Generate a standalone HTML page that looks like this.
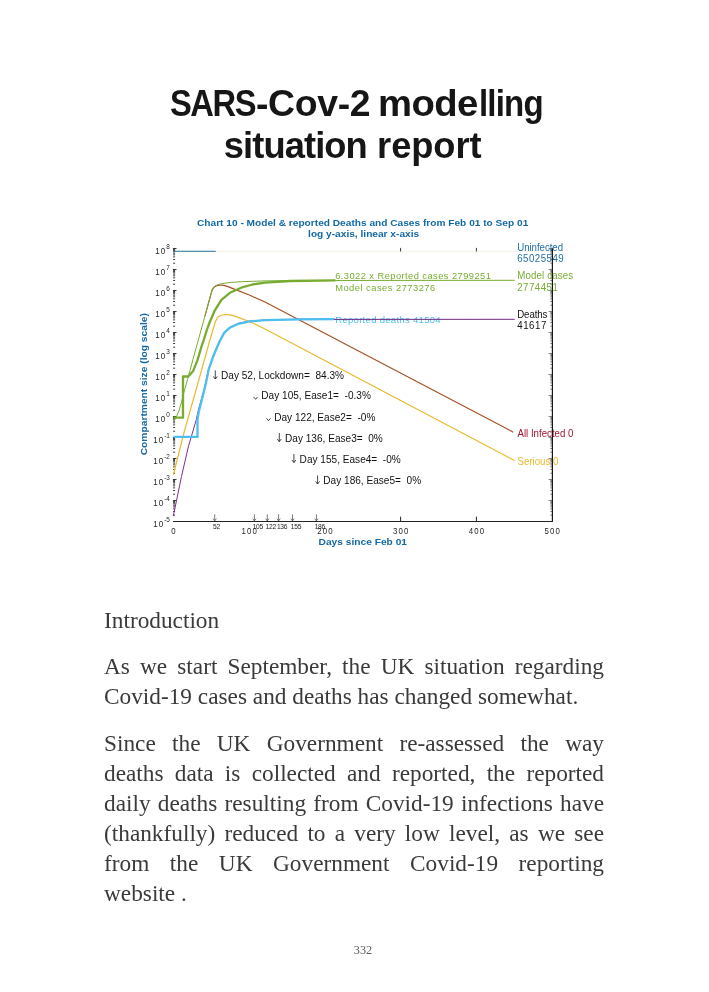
<!DOCTYPE html>
<html lang="en">
<head>
<meta charset="utf-8">
<title>SARS-Cov-2 modelling situation report</title>
<style>
  html, body { margin: 0; padding: 0; background: #ffffff; }
  body { width: 709px; height: 992px; position: relative; overflow: hidden; }
  .page { position: absolute; left: 0; top: 0; width: 709px; height: 992px; background: #fff; overflow: hidden; }
  .ln, .pn, h1.title { will-change: transform; }

  /* ---------- Title ---------- */
  h1.title { margin: 0; padding: 0; font-size: 36.3px; position: absolute; left: 0; top: 0; width: 709px; height: 200px; }
  .tw { position: absolute; white-space: nowrap; margin: 0; display: block; transform-origin: 0 50%;
        font-family: "Liberation Sans", sans-serif; font-weight: bold;
        font-size: 36.3px; line-height: 40px; color: #161616; }

  /* ---------- Body text ---------- */
  .ln { position: absolute; left: 104.2px; width: 500px; margin: 0;
        font-family: "Liberation Serif", serif; font-size: 23.3px; line-height: 30px;
        color: #3a3a3a; white-space: nowrap; }
  .ln.j { white-space: normal; text-align: justify; text-align-last: justify; }
  .pn { position: absolute; left: 333px; width: 60px; text-align: center; top: 942.7px;
        font-family: "Liberation Serif", serif; font-size: 12.2px; line-height: 14px; color: #5a5a5a; }

  /* ---------- Chart ---------- */
  svg.chart { position: absolute; left: 0; top: 0; }
  svg.chart text { font-family: "Liberation Sans", sans-serif; }
</style>
</head>
<body>
<div class="page">

  <!-- Title (chunks placed individually to match the original font's widths) -->
  <h1 class="title">
    <span class="tw" id="t1" style="left:169.6px; top:84.3px; letter-spacing:-1.6px; transform:scaleX(0.90);">SARS</span><span class="tw" id="t1b" style="left:256.2px; top:84.3px; letter-spacing:-0.35px; transform:scaleX(1.03);">-Cov-2</span>
    <span class="tw" id="t2" style="left:378.1px; top:84.3px; letter-spacing:-0.6px; transform:scaleX(1.055);">mode</span><span class="tw" id="t2b" style="left:478.6px; top:84.3px; letter-spacing:-0.9px; transform:scaleX(0.91);">lling</span>
    <span class="tw" id="t3" style="left:223.8px; top:125.7px; letter-spacing:-0.91px;">situation</span>
    <span class="tw" id="t4" style="left:377.1px; top:125.7px; letter-spacing:-0.07px;">report</span>
  </h1>

  <!-- CHART-BEGIN -->
<svg class="chart" width="709" height="992" viewBox="0 0 709 992">
<line x1="215.8" y1="251.3" x2="552.2" y2="251.3" stroke="#f4f2e8" stroke-width="1"/>
<line x1="173.0" y1="521.5" x2="552.8" y2="521.5" stroke="#222222" stroke-width="1.2"/>
<line x1="400.6" y1="521.5" x2="400.6" y2="516.7" stroke="#222222" stroke-width="1"/>
<line x1="400.6" y1="247.9" x2="400.6" y2="251.5" stroke="#222222" stroke-width="0.9"/>
<line x1="476.4" y1="521.5" x2="476.4" y2="516.7" stroke="#222222" stroke-width="1"/>
<line x1="476.4" y1="247.9" x2="476.4" y2="251.5" stroke="#222222" stroke-width="0.9"/>
<path d="M172.9 248.50h3.6M173.1 263.18h2.0M173.1 259.48h2.0M173.1 256.86h2.0M173.1 254.82h2.0M173.1 253.16h2.0M173.1 251.75h2.0M173.1 250.54h2.0M173.1 249.46h2.0M172.9 269.50h3.6M173.1 284.18h2.0M173.1 280.48h2.0M173.1 277.86h2.0M173.1 275.82h2.0M173.1 274.16h2.0M173.1 272.75h2.0M173.1 271.54h2.0M173.1 270.46h2.0M172.9 290.50h3.6M173.1 305.18h2.0M173.1 301.48h2.0M173.1 298.86h2.0M173.1 296.82h2.0M173.1 295.16h2.0M173.1 293.75h2.0M173.1 292.54h2.0M173.1 291.46h2.0M172.9 311.50h3.6M173.1 326.18h2.0M173.1 322.48h2.0M173.1 319.86h2.0M173.1 317.82h2.0M173.1 316.16h2.0M173.1 314.75h2.0M173.1 313.54h2.0M173.1 312.46h2.0M172.9 332.50h3.6M173.1 347.18h2.0M173.1 343.48h2.0M173.1 340.86h2.0M173.1 338.82h2.0M173.1 337.16h2.0M173.1 335.75h2.0M173.1 334.54h2.0M173.1 333.46h2.0M172.9 353.50h3.6M173.1 368.18h2.0M173.1 364.48h2.0M173.1 361.86h2.0M173.1 359.82h2.0M173.1 358.16h2.0M173.1 356.75h2.0M173.1 355.54h2.0M173.1 354.46h2.0M172.9 374.50h3.6M173.1 389.18h2.0M173.1 385.48h2.0M173.1 382.86h2.0M173.1 380.82h2.0M173.1 379.16h2.0M173.1 377.75h2.0M173.1 376.54h2.0M173.1 375.46h2.0M172.9 395.50h3.6M173.1 410.18h2.0M173.1 406.48h2.0M173.1 403.86h2.0M173.1 401.82h2.0M173.1 400.16h2.0M173.1 398.75h2.0M173.1 397.54h2.0M173.1 396.46h2.0M172.9 416.50h3.6M173.1 431.18h2.0M173.1 427.48h2.0M173.1 424.86h2.0M173.1 422.82h2.0M173.1 421.16h2.0M173.1 419.75h2.0M173.1 418.54h2.0M173.1 417.46h2.0M172.9 437.50h3.6M173.1 452.18h2.0M173.1 448.48h2.0M173.1 445.86h2.0M173.1 443.82h2.0M173.1 442.16h2.0M173.1 440.75h2.0M173.1 439.54h2.0M173.1 438.46h2.0M172.9 458.50h3.6M173.1 473.18h2.0M173.1 469.48h2.0M173.1 466.86h2.0M173.1 464.82h2.0M173.1 463.16h2.0M173.1 461.75h2.0M173.1 460.54h2.0M173.1 459.46h2.0M172.9 479.50h3.6M173.1 494.18h2.0M173.1 490.48h2.0M173.1 487.86h2.0M173.1 485.82h2.0M173.1 484.16h2.0M173.1 482.75h2.0M173.1 481.54h2.0M173.1 480.46h2.0M172.9 500.50h3.6M173.1 515.18h2.0M173.1 511.48h2.0M173.1 508.86h2.0M173.1 506.82h2.0M173.1 505.16h2.0M173.1 503.75h2.0M173.1 502.54h2.0M173.1 501.46h2.0M172.9 521.50h3.6" stroke="#222222" stroke-width="0.9" fill="none"/>
<path d="M552.2 248.50h-3.6M552.2 263.18h-1.9M552.2 259.48h-1.9M552.2 256.86h-1.9M552.2 254.82h-1.9M552.2 253.16h-1.9M552.2 251.75h-1.9M552.2 250.54h-1.9M552.2 249.46h-1.9M552.2 269.50h-3.6M552.2 284.18h-1.9M552.2 280.48h-1.9M552.2 277.86h-1.9M552.2 275.82h-1.9M552.2 274.16h-1.9M552.2 272.75h-1.9M552.2 271.54h-1.9M552.2 270.46h-1.9M552.2 290.50h-3.6M552.2 305.18h-1.9M552.2 301.48h-1.9M552.2 298.86h-1.9M552.2 296.82h-1.9M552.2 295.16h-1.9M552.2 293.75h-1.9M552.2 292.54h-1.9M552.2 291.46h-1.9M552.2 311.50h-3.6M552.2 326.18h-1.9M552.2 322.48h-1.9M552.2 319.86h-1.9M552.2 317.82h-1.9M552.2 316.16h-1.9M552.2 314.75h-1.9M552.2 313.54h-1.9M552.2 312.46h-1.9M552.2 332.50h-3.6M552.2 347.18h-1.9M552.2 343.48h-1.9M552.2 340.86h-1.9M552.2 338.82h-1.9M552.2 337.16h-1.9M552.2 335.75h-1.9M552.2 334.54h-1.9M552.2 333.46h-1.9M552.2 353.50h-3.6M552.2 368.18h-1.9M552.2 364.48h-1.9M552.2 361.86h-1.9M552.2 359.82h-1.9M552.2 358.16h-1.9M552.2 356.75h-1.9M552.2 355.54h-1.9M552.2 354.46h-1.9M552.2 374.50h-3.6M552.2 389.18h-1.9M552.2 385.48h-1.9M552.2 382.86h-1.9M552.2 380.82h-1.9M552.2 379.16h-1.9M552.2 377.75h-1.9M552.2 376.54h-1.9M552.2 375.46h-1.9M552.2 395.50h-3.6M552.2 410.18h-1.9M552.2 406.48h-1.9M552.2 403.86h-1.9M552.2 401.82h-1.9M552.2 400.16h-1.9M552.2 398.75h-1.9M552.2 397.54h-1.9M552.2 396.46h-1.9M552.2 416.50h-3.6M552.2 431.18h-1.9M552.2 427.48h-1.9M552.2 424.86h-1.9M552.2 422.82h-1.9M552.2 421.16h-1.9M552.2 419.75h-1.9M552.2 418.54h-1.9M552.2 417.46h-1.9M552.2 437.50h-3.6M552.2 452.18h-1.9M552.2 448.48h-1.9M552.2 445.86h-1.9M552.2 443.82h-1.9M552.2 442.16h-1.9M552.2 440.75h-1.9M552.2 439.54h-1.9M552.2 438.46h-1.9M552.2 458.50h-3.6M552.2 473.18h-1.9M552.2 469.48h-1.9M552.2 466.86h-1.9M552.2 464.82h-1.9M552.2 463.16h-1.9M552.2 461.75h-1.9M552.2 460.54h-1.9M552.2 459.46h-1.9M552.2 479.50h-3.6M552.2 494.18h-1.9M552.2 490.48h-1.9M552.2 487.86h-1.9M552.2 485.82h-1.9M552.2 484.16h-1.9M552.2 482.75h-1.9M552.2 481.54h-1.9M552.2 480.46h-1.9M552.2 500.50h-3.6M552.2 515.18h-1.9M552.2 511.48h-1.9M552.2 508.86h-1.9M552.2 506.82h-1.9M552.2 505.16h-1.9M552.2 503.75h-1.9M552.2 502.54h-1.9M552.2 501.46h-1.9M552.2 521.50h-3.6" stroke="#222222" stroke-width="0.7" fill="none" opacity="0.8"/>
<polyline points="174.0,251.3 215.8,251.3" fill="none" stroke="#2A6A95" stroke-width="1.1" stroke-linejoin="round" />
<polyline points="173.3,516.0 176.0,503.0 181.5,476.4 188.3,447.0 196.2,420.0 198.6,409.0 203.8,391.2 208.4,369.8 213.7,354.6 219.2,341.6 224.2,332.4 229.9,327.2 238.3,323.4 249.6,321.1 265.0,320.0 300.0,319.2 334.5,319.1" fill="none" stroke="#7E2F8E" stroke-width="1.0" stroke-linejoin="round" />
<polyline points="173.3,475.0 184.7,430.0 197.4,385.0 209.9,340.0 213.2,329.0 215.4,321.5 217.4,317.9 219.5,316.0 222.0,315.0 226.0,314.5 229.9,314.9 234.0,315.9 238.3,317.4 250.0,321.8 265.0,328.9 440.0,421.2 514.5,460.6" fill="none" stroke="#E9B82A" stroke-width="1.15" stroke-linejoin="round" />
<polyline points="205.0,315.8 210.0,297.6 212.0,290.4 213.6,287.6 216.0,286.0 220.0,285.0 224.0,285.4 228.0,286.6 235.5,289.6 250.0,295.3 265.0,302.1 513.3,432.2" fill="none" stroke="#A54F23" stroke-width="1.15" stroke-linejoin="round" />
<polyline points="174.2,420.3 176.5,416.5 179.1,410.4 181.5,402.0 184.0,392.0 187.6,379.4 193.2,358.6 198.9,338.0 205.0,315.8 210.0,297.6 212.0,290.4 213.4,287.4 215.5,285.7 218.0,284.6 221.4,283.7 230.0,282.5 241.2,281.7 265.0,280.9 300.0,280.5 514.7,280.3" fill="none" stroke="#77AC30" stroke-width="1.0" stroke-linejoin="round" />
<polyline points="173.6,436.9 197.5,436.9 197.5,419.0 198.9,411.4 201.7,400.1 205.9,383.4 208.7,369.3 213.7,355.2 219.2,342.2 224.2,332.9 229.9,327.7 238.3,323.8 249.6,321.4 265.0,320.2 300.0,319.4 334.3,319.1" fill="none" stroke="#4DBEEE" stroke-width="2.3" stroke-linejoin="round" />
<polyline points="173.6,417.7 183.0,417.7 183.0,376.5 188.3,376.5 193.2,370.9 197.4,360.3 201.7,345.8 203.8,339.8 206.6,330.6 208.7,324.8 214.4,311.2 221.4,299.9 229.9,292.8 241.2,287.7 252.4,284.5 265.0,282.6 290.0,281.0 335.3,280.4" fill="none" stroke="#77AC30" stroke-width="2.3" stroke-linejoin="round" />
<text transform="translate(362.65,226.0) scale(1.035,1)" font-size="9.8" fill="#1369A6" xml:space="preserve" font-weight="bold" text-anchor="middle">Chart 10 - Model &amp; reported Deaths and Cases from Feb 01 to Sep 01</text>
<text transform="translate(363.6,237.2) scale(1.036,1)" font-size="9.8" fill="#1369A6" xml:space="preserve" font-weight="bold" text-anchor="middle">log y-axis, linear x-axis</text>
<text transform="translate(362.8,545.4) scale(1.041,1)" font-size="9.8" fill="#1369A6" xml:space="preserve" font-weight="bold" text-anchor="middle">Days since Feb 01</text>
<text transform="translate(147.3,384.2) rotate(-90) scale(1.045,1)" font-size="9.8" fill="#1369A6" font-weight="bold" text-anchor="middle">Compartment size (log scale)</text>
<text transform="translate(169.9,253.7) scale(0.82,1)" font-size="9.8" fill="#262626" text-anchor="end"><tspan letter-spacing="1.3">10</tspan><tspan dy="-5.0" font-size="7.8">8</tspan></text>
<text transform="translate(169.9,274.7) scale(0.82,1)" font-size="9.8" fill="#262626" text-anchor="end"><tspan letter-spacing="1.3">10</tspan><tspan dy="-5.0" font-size="7.8">7</tspan></text>
<text transform="translate(169.9,295.7) scale(0.82,1)" font-size="9.8" fill="#262626" text-anchor="end"><tspan letter-spacing="1.3">10</tspan><tspan dy="-5.0" font-size="7.8">6</tspan></text>
<text transform="translate(169.9,316.7) scale(0.82,1)" font-size="9.8" fill="#262626" text-anchor="end"><tspan letter-spacing="1.3">10</tspan><tspan dy="-5.0" font-size="7.8">5</tspan></text>
<text transform="translate(169.9,337.7) scale(0.82,1)" font-size="9.8" fill="#262626" text-anchor="end"><tspan letter-spacing="1.3">10</tspan><tspan dy="-5.0" font-size="7.8">4</tspan></text>
<text transform="translate(169.9,358.7) scale(0.82,1)" font-size="9.8" fill="#262626" text-anchor="end"><tspan letter-spacing="1.3">10</tspan><tspan dy="-5.0" font-size="7.8">3</tspan></text>
<text transform="translate(169.9,379.7) scale(0.82,1)" font-size="9.8" fill="#262626" text-anchor="end"><tspan letter-spacing="1.3">10</tspan><tspan dy="-5.0" font-size="7.8">2</tspan></text>
<text transform="translate(169.9,400.7) scale(0.82,1)" font-size="9.8" fill="#262626" text-anchor="end"><tspan letter-spacing="1.3">10</tspan><tspan dy="-5.0" font-size="7.8">1</tspan></text>
<text transform="translate(169.9,421.7) scale(0.82,1)" font-size="9.8" fill="#262626" text-anchor="end"><tspan letter-spacing="1.3">10</tspan><tspan dy="-5.0" font-size="7.8">0</tspan></text>
<text transform="translate(169.9,442.7) scale(0.82,1)" font-size="9.8" fill="#262626" text-anchor="end"><tspan letter-spacing="1.3">10</tspan><tspan dy="-5.0" font-size="7.8">-1</tspan></text>
<text transform="translate(169.9,463.7) scale(0.82,1)" font-size="9.8" fill="#262626" text-anchor="end"><tspan letter-spacing="1.3">10</tspan><tspan dy="-5.0" font-size="7.8">-2</tspan></text>
<text transform="translate(169.9,484.7) scale(0.82,1)" font-size="9.8" fill="#262626" text-anchor="end"><tspan letter-spacing="1.3">10</tspan><tspan dy="-5.0" font-size="7.8">-3</tspan></text>
<text transform="translate(169.9,505.7) scale(0.82,1)" font-size="9.8" fill="#262626" text-anchor="end"><tspan letter-spacing="1.3">10</tspan><tspan dy="-5.0" font-size="7.8">-4</tspan></text>
<text transform="translate(169.9,526.7) scale(0.82,1)" font-size="9.8" fill="#262626" text-anchor="end"><tspan letter-spacing="1.3">10</tspan><tspan dy="-5.0" font-size="7.8">-5</tspan></text>
<text transform="translate(173.9,534.2) scale(0.82,1)" font-size="9.6" letter-spacing="1.35" fill="#262626" text-anchor="middle">0</text>
<text transform="translate(249.7,534.2) scale(0.82,1)" font-size="9.6" letter-spacing="1.35" fill="#262626" text-anchor="middle">100</text>
<text transform="translate(325.5,534.2) scale(0.82,1)" font-size="9.6" letter-spacing="1.35" fill="#262626" text-anchor="middle">200</text>
<text transform="translate(401.2,534.2) scale(0.82,1)" font-size="9.6" letter-spacing="1.35" fill="#262626" text-anchor="middle">300</text>
<text transform="translate(477.0,534.2) scale(0.82,1)" font-size="9.6" letter-spacing="1.35" fill="#262626" text-anchor="middle">400</text>
<text transform="translate(552.8,534.2) scale(0.82,1)" font-size="9.6" letter-spacing="1.35" fill="#262626" text-anchor="middle">500</text>
<text x="213.0" y="529.0" font-size="6.7" letter-spacing="-0.3" fill="#1c1c1c">52</text>
<text x="252.7" y="529.0" font-size="6.7" letter-spacing="-0.3" fill="#1c1c1c">105</text>
<text x="265.6" y="529.0" font-size="6.7" letter-spacing="-0.3" fill="#1c1c1c">122</text>
<text x="276.9" y="529.0" font-size="6.7" letter-spacing="-0.3" fill="#1c1c1c">136</text>
<text x="290.8" y="529.0" font-size="6.7" letter-spacing="-0.3" fill="#1c1c1c">155</text>
<text x="314.7" y="529.0" font-size="6.7" letter-spacing="-0.3" fill="#1c1c1c">186</text>
<path d="M214.7 514.3V520.9M213.0 518.6L214.7 520.9L216.4 518.6M254.4 514.3V520.9M252.7 518.6L254.4 520.9L256.1 518.6M267.3 514.3V520.9M265.6 518.6L267.3 520.9L269.0 518.6M278.6 514.3V520.9M276.9 518.6L278.6 520.9L280.3 518.6M292.5 514.3V520.9M290.8 518.6L292.5 520.9L294.2 518.6M316.4 514.3V520.9M314.7 518.6L316.4 520.9L318.1 518.6" stroke="#444" stroke-width="0.7" fill="none"/>
<text transform="translate(221.0,378.9) scale(0.886,1)" font-size="11.4" fill="#111" xml:space="preserve" >Day 52, Lockdown=  84.3%</text>
<text transform="translate(261.3,399.2) scale(0.886,1)" font-size="11.4" fill="#111" xml:space="preserve" >Day 105, Ease1=  -0.3%</text>
<text transform="translate(274.2,420.6) scale(0.886,1)" font-size="11.4" fill="#111" xml:space="preserve" >Day 122, Ease2=  -0%</text>
<text transform="translate(285.0,441.5) scale(0.886,1)" font-size="11.4" fill="#111" xml:space="preserve" >Day 136, Ease3=  0%</text>
<text transform="translate(299.6,462.5) scale(0.886,1)" font-size="11.4" fill="#111" xml:space="preserve" >Day 155, Ease4=  -0%</text>
<text transform="translate(323.3,483.9) scale(0.886,1)" font-size="11.4" fill="#111" xml:space="preserve" >Day 186, Ease5=  0%</text>
<path d="M215.3 370.4V379.0M213.3 376.4L215.3 379.0L217.3 376.4M253.6 396.9L255.6 399.3L257.6 396.9M266.5 418.3L268.5 420.7L270.5 418.3M279.3 433.0V441.6M277.3 439.0L279.3 441.6L281.3 439.0M293.9 454.0V462.6M291.9 460.0L293.9 462.6L295.9 460.0M317.6 475.4V484.0M315.6 481.4L317.6 484.0L319.6 481.4" stroke="#1a1a1a" stroke-width="0.8" fill="none"/>
<text x="335.2" y="278.6" font-size="9.3" fill="#77AC30" xml:space="preserve" letter-spacing="0.45">6.3022 x Reported cases 2799251</text>
<text x="335.2" y="290.7" font-size="9.3" fill="#77AC30" xml:space="preserve" letter-spacing="0.5">Model cases 2773276</text>
<text x="335.2" y="323.0" font-size="9.6" fill="#4DBEEE" xml:space="preserve" letter-spacing="0.26">Reported deaths 41504</text>
<polyline points="334.0,319.4 514.7,319.3" fill="none" stroke="#6E2880" stroke-width="1.0" stroke-linejoin="round" />
<text transform="translate(517.2,250.6) scale(0.82,1)" font-size="11.8" fill="#1F6FA8" xml:space="preserve" letter-spacing="-0.05">Uninfected</text>
<text transform="translate(517.2,262.4) scale(0.82,1)" font-size="11.8" fill="#1F6FA8" xml:space="preserve" letter-spacing="0.6">65025549</text>
<text transform="translate(517.2,279.0) scale(0.82,1)" font-size="11.8" fill="#77AC30" xml:space="preserve" letter-spacing="0.2">Model cases</text>
<text transform="translate(517.2,290.9) scale(0.82,1)" font-size="11.8" fill="#77AC30" xml:space="preserve" letter-spacing="0.6">2774451</text>
<text transform="translate(517.2,318.3) scale(0.82,1)" font-size="11.8" fill="#111" xml:space="preserve" letter-spacing="-0.1">Deaths</text>
<text transform="translate(517.2,329.0) scale(0.82,1)" font-size="11.8" fill="#111" xml:space="preserve" letter-spacing="0.7">41617</text>
<text transform="translate(517.5,437.0) scale(0.82,1)" font-size="11.8" fill="#A2142F" xml:space="preserve" >All Infected 0</text>
<text transform="translate(517.5,465.2) scale(0.82,1)" font-size="11.8" fill="#E9B82A" xml:space="preserve" >Serious 0</text>
<line x1="552.4" y1="248.2" x2="552.4" y2="521.5" stroke="#151515" stroke-width="1.2"/>
</svg>
<!-- CHART-END -->

  <!-- Body -->
  <p class="ln"   id="b0" style="top:605.4px;">Introduction</p>
  <p class="ln j" id="b1" style="top:651.4px;">As we start September, the UK situation regarding</p>
  <p class="ln"   id="b2" style="top:681.2px;">Covid-19 cases and deaths has changed somewhat.</p>
  <p class="ln j" id="b3" style="top:728.1px;">Since the UK Government re-assessed the way</p>
  <p class="ln j" id="b4" style="top:758.1px;">deaths data is collected and reported, the reported</p>
  <p class="ln j" id="b5" style="top:788.1px;">daily deaths resulting from Covid-19 infections have</p>
  <p class="ln j" id="b6" style="top:818.1px;">(thankfully) reduced to a very low level, as we see</p>
  <p class="ln j" id="b7" style="top:848.1px;">from the UK Government Covid-19 reporting</p>
  <p class="ln"   id="b8" style="top:878.1px;">website .</p>

  <div class="pn">332</div>
</div>
</body>
</html>
